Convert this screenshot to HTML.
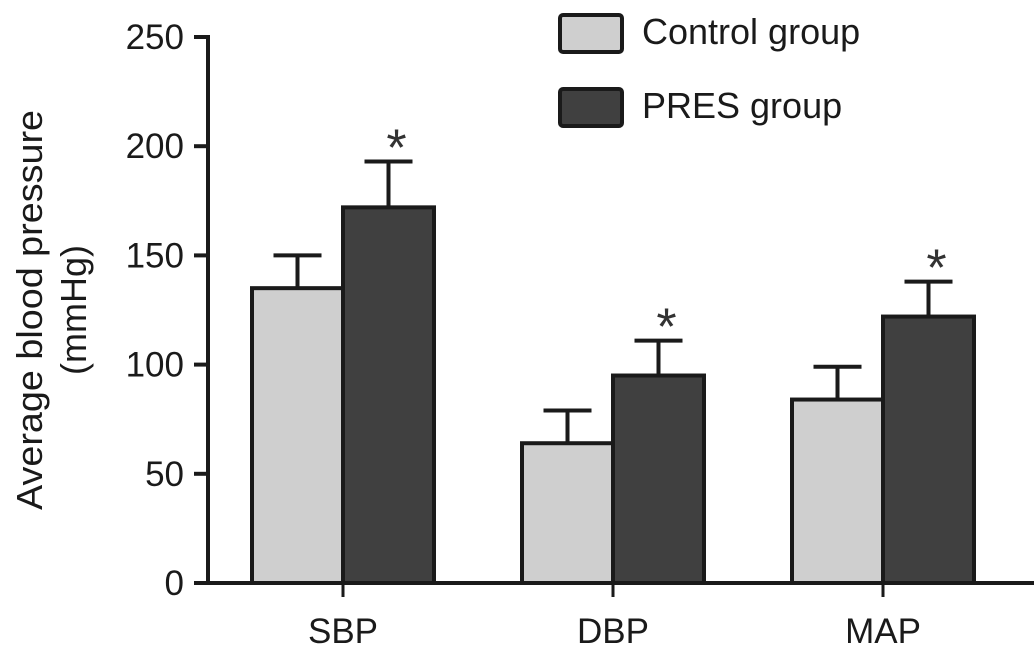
<!DOCTYPE html>
<html><head><meta charset="utf-8"><style>
body{margin:0;background:#fff}
svg{display:block;font-family:"Liberation Sans",Arial,sans-serif}
</style></head><body>
<svg id="chart" width="1034" height="657">
<g id="plot"></g>
</svg>
<script>
const categories=["SBP","DBP","MAP"];
const controlValues=[135,64,84];
const controlErrors=[15,15,15];
const presValues=[172,95,122];
const presErrors=[21,16,16];
const significant=[true,true,true];
const yTicks=[0,50,100,150,200,250];
const seriesNames=["Control group","PRES group"];

const NS="http://www.w3.org/2000/svg";
const g=document.getElementById('plot');
const y0=583,yTop=37,yMax=250,axisX=208;
const ys=v=>y0-(v/yMax)*(y0-yTop);
const groupCenter=i=>343+i*270;
const barW=91;
function el(t,a,txt){const e=document.createElementNS(NS,t);for(const k in a)e.setAttribute(k,a[k]);if(txt!=null)e.textContent=txt;g.appendChild(e);return e;}

categories.forEach((c,i)=>{
  const cx=groupCenter(i);
  [[controlValues,controlErrors,"#cfcfcf",cx-barW,'control'],[presValues,presErrors,"#404040",cx,'pres']].forEach(([vals,errs,fill,x,n])=>{
    const top=ys(vals[i]),et=ys(vals[i]+errs[i]),mx=x+barW/2;
    let e=el('line',{x1:mx,y1:top,x2:mx,y2:et,stroke:'#1a1a1a','stroke-width':4});
    
    
    e=el('line',{x1:mx-24,y1:et,x2:mx+24,y2:et,stroke:'#1a1a1a','stroke-width':4});
    
    
    e=el('rect',{x:x,y:top,width:barW,height:y0-top,fill:fill,stroke:'#1a1a1a','stroke-width':4});
    
    
    if(n==='pres'&&significant[i]){
      e=el('text',{x:mx+8,y:et+4,'font-size':52,'text-anchor':'middle',fill:'#333'},'*');
      
      
    }
  });
  let t=el('line',{x1:cx,y1:y0,x2:cx,y2:y0+14,stroke:'#1a1a1a','stroke-width':3});
  
  
  t=el('text',{x:cx,y:643,'font-size':35,'text-anchor':'middle',fill:'#1a1a1a'},c);
  
  
});
let ax=el('line',{x1:axisX,y1:yTop-2,x2:axisX,y2:y0+2,stroke:'#1a1a1a','stroke-width':4});


ax=el('line',{x1:194,y1:y0,x2:1034,y2:y0,stroke:'#1a1a1a','stroke-width':4});


yTicks.forEach(v=>{
  let t=el('line',{x1:194,y1:ys(v),x2:axisX,y2:ys(v),stroke:'#1a1a1a','stroke-width':4});
  
  
  t=el('text',{x:184,y:ys(v)+12,'font-size':35,'text-anchor':'end',fill:'#1a1a1a'},v);
  
  
});
let yt=el('text',{x:0,y:0,'font-size':36,'text-anchor':'middle',fill:'#1a1a1a',textLength:400,lengthAdjust:'spacingAndGlyphs',transform:'translate(42,310) rotate(-90)'},'Average blood pressure');


yt=el('text',{x:0,y:0,'font-size':36,'text-anchor':'middle',fill:'#1a1a1a',transform:'translate(86,310) rotate(-90)'},'(mmHg)');


seriesNames.forEach((s,i)=>{
  const y=15+i*74;
  let r=el('rect',{x:560,y:y,width:62,height:37,rx:3,fill:i?'#404040':'#cfcfcf',stroke:'#1a1a1a','stroke-width':4});
  
  
  r=el('text',{x:642,y:y+29,'font-size':36,fill:'#1a1a1a'},s);
  
  
});
</script>
</body></html>
